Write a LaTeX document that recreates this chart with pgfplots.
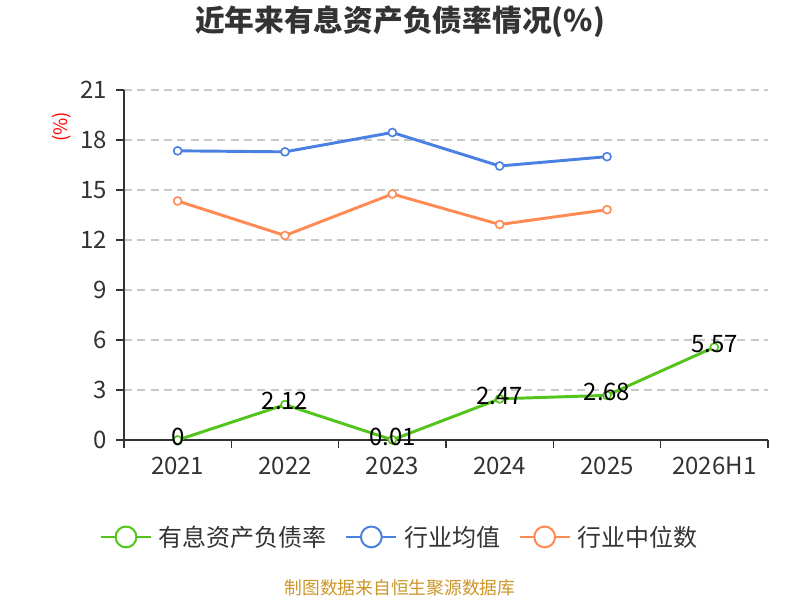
\documentclass[border=0pt]{standalone}
\usepackage{fontspec}
\setmainfont{Noto Sans CJK SC}
\usepackage{pgfplots}
\pgfplotsset{compat=1.18}
\definecolor{cg}{RGB}{82,196,26}
\definecolor{cb}{RGB}{74,128,226}
\definecolor{co}{RGB}{255,138,84}
\definecolor{ctxt}{RGB}{51,51,51}
\definecolor{cgrid}{RGB}{200,200,200}
\definecolor{csrc}{RGB}{204,150,40}
\begin{document}
\begin{tikzpicture}
\fill[white] (0,0) rectangle (600pt,450pt);
\path[use as bounding box] (0,0) rectangle (600pt,450pt);
\begin{axis}[
  at={(93pt,120pt)}, anchor=south west,
  scale only axis, width=483pt, height=262.5pt,
  xmin=-0.5, xmax=5.5, ymin=0, ymax=21,
  axis x line*=bottom, axis y line*=left,
  axis line style={-, ctxt, line width=1pt},
  xtick={0,...,5}, xticklabels={2021,2022,2023,2024,2025,2026H1},
  minor xtick={-0.5,0.5,...,5.5},
  ytick={0,3,...,21},
  tick align=outside, major tick length=6pt, minor tick length=6pt,
  tick style={ctxt, line width=1pt},
  major x tick style={draw=none},
  ymajorgrids,
  major grid style={cgrid, line width=0.9pt, dash pattern=on 6pt off 4pt},
  ticklabel style={font=\fontsize{18}{20}\selectfont, text=ctxt},
  xticklabel style={yshift=-3pt},
  yticklabel style={xshift=-3pt},
  /pgf/number format/assume math mode=true,
  clip=false,
  every axis plot/.append style={line width=2.2pt, mark=*, mark size=3pt},
  legend style={at={(0.4286,-0.277)}, anchor=center, draw=none, fill=none,
    legend columns=-1, font=\fontsize{18}{20}\selectfont, text=ctxt,
    /tikz/every even column/.append style={column sep=12pt},
    /tikz/every odd column/.append style={column sep=3pt}},
  legend image code/.code={
    \draw[line width=1.5pt] (0pt,0pt) -- (37.5pt,0pt);
    \draw[line width=1.5pt, fill=white] (18.75pt,0pt) circle (7.8pt);
  },
]
\addplot[cg, mark options={fill=white, draw=cg, line width=1.2pt},
  nodes near coords, point meta=explicit symbolic,
  every node near coord/.append style={anchor=center, yshift=2.5pt,
    text=black, font=\fontsize{18}{20}\selectfont}]
  coordinates {(0,0) [0] (1,2.12) [2.12] (2,0.01) [0.01] (3,2.47) [2.47] (4,2.68) [2.68] (5,5.57) [5.57]};
\addlegendentry{有息资产负债率}
\addplot[cb, mark options={fill=white, draw=cb, line width=1.2pt}]
  coordinates {(0,17.35) (1,17.29) (2,18.45) (3,16.44) (4,17.0)};
\addlegendentry{行业均值}
\addplot[co, mark options={fill=white, draw=co, line width=1.2pt}]
  coordinates {(0,14.34) (1,12.27) (2,14.76) (3,12.93) (4,13.82)};
\addlegendentry{行业中位数}
\end{axis}
\node[font=\fontsize{22.3}{26}\selectfont\bfseries, text=ctxt] at (300pt,433.5pt) {近年来有息资产负债率情况(\%)};
\node[rotate=90, text=red, font=\fontsize{14}{16}\selectfont] at (46.5pt,355pt) {(\%)};
\node[text=csrc, font=\fontsize{13.3}{15}\selectfont] at (300pt,9pt) {制图数据来自恒生聚源数据库};
\end{tikzpicture}
\end{document}
